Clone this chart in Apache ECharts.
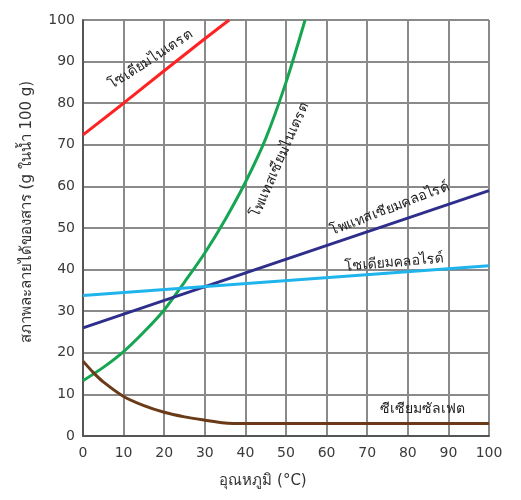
<!DOCTYPE html>
<html>
<head>
<meta charset="utf-8">
<script src="https://cdn.jsdelivr.net/npm/echarts@6/dist/echarts.min.js"></script>
<style>html,body{margin:0;padding:0;background:#fff}#c{width:521px;height:500px}</style>
</head>
<body>
<div id="c"></div>
<script>
// Data (temperature °C, solubility g per 100 g water)
const xTicks = [0,10,20,30,40,50,60,70,80,90,100];
const sodiumNitrate = [[0,72.4],[10,80],[20,87.8],[30,95.5],[36,100]];
const potassiumNitrate = [[0,13.3],[5,16.5],[10,20.3],[15,25],[20,30.3],[25,37],[30,44],[35,52],[40,61],[45,71.5],[50,85],[54.7,100]];
const potassiumChloride = [[0,26],[100,59]];
const sodiumChloride = [[0,33.8],[100,40.9]];
const ceriumSulfate = [[0,18],[2.5,15.3],[5,13],[10,9.5],[15,7.3],[20,5.7],[25,4.6],[30,3.8],[35,3.1],[38,3],[50,3],[100,3]];

const names = ['โซเดียมไนเตรต','โพแทสเซียมไนเตรต','โพแทสเซียมคลอไรด์','โซเดียมคลอไรด์','ซีเซียมซัลเฟต'];
const colors = ['#ff2222','#16a652','#2e2e8c','#20b4ec','#6b3a18'];
const seriesData = [sodiumNitrate, potassiumNitrate, potassiumChloride, sodiumChloride, ceriumSulfate];

// label anchors (data coords) and rotation in degrees
const labelAnchors = [[16.6,90.4,33],[48.6,66.3,66],[75.6,54.6,21],[76.6,41.6,5],[83.6,6.5,0]];

const FONT = 'DejaVu Sans, Tahoma, sans-serif';
const chart = echarts.init(document.getElementById('c'));
const gridLine = {show:true,lineStyle:{color:'#8a8a8a',width:2,type:'solid',opacity:1}};
chart.setOption({
  animation:false,
  backgroundColor:'#fff',
  grid:{left:83,right:32,top:20,bottom:64,containLabel:false},
  xAxis:{type:'value',min:0,max:100,interval:10,
    axisLine:{show:true,onZero:false,lineStyle:{color:'#555',width:2}},
    axisTick:{show:false},
    axisLabel:{color:'#3a3a3a',fontSize:14,fontFamily:FONT,margin:10},
    splitLine:gridLine},
  yAxis:{type:'value',min:0,max:100,interval:10,
    axisLine:{show:true,lineStyle:{color:'#555',width:2}},
    axisTick:{show:false},
    axisLabel:{color:'#3a3a3a',fontSize:14,fontFamily:FONT,margin:8},
    splitLine:gridLine},
  series: seriesData.map((d,i)=>({
    type:'line',name:names[i],data:d,showSymbol:false,symbol:'none',
    smooth:(i===1||i===4)?0.3:false,
    lineStyle:{color:colors[i],width:3},
    z:3
  }))
});

const gr = [];
labelAnchors.forEach((a,i)=>{
  const p = chart.convertToPixel({gridIndex:0},[a[0],a[1]]);
  gr.push({type:'text',x:p[0],y:p[1],rotation:a[2]*Math.PI/180,z:10,
    style:{text:names[i],fill:'#222',font:'14px '+FONT,align:'center',verticalAlign:'middle'}});
});
gr.push({type:'text',x:263,y:481,z:10,style:{text:'อุณหภูมิ (°C)',fill:'#333',font:'15px '+FONT,align:'center',verticalAlign:'middle'}});
gr.push({type:'text',x:27,y:212,rotation:Math.PI/2,z:10,style:{text:'สภาพละลายได้ของสาร (g ในน้ำ 100 g)',fill:'#333',font:'15px '+FONT,align:'center',verticalAlign:'middle'}});
chart.setOption({graphic:gr});
</script>
</body>
</html>
